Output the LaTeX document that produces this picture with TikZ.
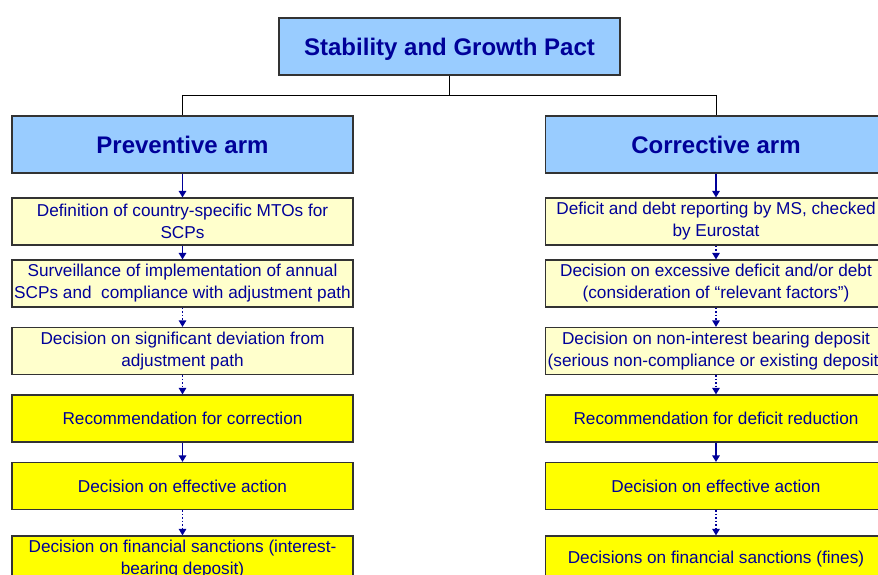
\documentclass[tikz,border=0pt]{standalone}
\usepackage{fontspec}
\setmainfont{Liberation Sans}
\usetikzlibrary{arrows.meta}
\definecolor{hblue}{HTML}{99CCFF}
\definecolor{lyel}{HTML}{FFFFCC}
\definecolor{yel}{HTML}{FFFF00}
\definecolor{navy}{HTML}{000099}
\definecolor{edge}{HTML}{333333}
\tikzset{
  head/.style={draw=edge, line width=1.3pt, fill=hblue, minimum width=341pt, minimum height=57pt,
    inner sep=0pt, text=navy, text height=18pt, text depth=0pt, font=\fontsize{24}{28}\selectfont\bfseries},
  pale/.style={draw=edge, line width=1.2pt, fill=lyel, minimum width=341pt, minimum height=47pt,
    inner sep=0pt, text=navy, align=center, font=\fontsize{17.2}{22}\selectfont},
  bright/.style={pale, fill=yel},
  flow/.style={draw=navy, line width=1.5pt, -{Triangle[length=6.5pt,width=7.5pt]}},
  dflow/.style={flow, dotted, line width=1.2pt},
  tree/.style={draw=black, line width=0.8pt}
}
\begin{document}
\begin{tikzpicture}[x=1pt,y=-1pt]
\useasboundingbox (0,0) rectangle (878,575);
\clip (0,0) rectangle (878,575);
\node[head] (sgp) at (449.5,46.5) {Stability and Growth Pact};
\node[head] (prev) at (182.5,144.5) {Preventive arm};
\node[head] (corr) at (716,144.5) {Corrective arm};
\coordinate (j) at (449.5,95);
\coordinate (jl) at (182.5,95);
\coordinate (jr) at (716,95);
\draw[tree] (sgp.south) -- (j);
\draw[tree] (jl) -- (jr);
\draw[tree] (jl) -- (prev.north);
\draw[tree] (jr) -- (corr.north);

\node[pale] (l1) at (182.5,221.5) {Definition of country-specific MTOs for\\SCPs};
\node[pale] (l2) at (182.5,283.5) {Surveillance of implementation of annual\\SCPs and\ \ compliance with adjustment path};
\node[pale] (l3) at (182.5,351) {Decision on significant deviation from\\adjustment path};
\node[bright] (l4) at (182.5,418.5) {Recommendation for correction};
\node[bright] (l5) at (182.5,486) {Decision on effective action};
\node[bright] (l6) at (182.5,559.5) {Decision on financial sanctions (interest-\\bearing deposit)};

\node[pale] (r1) at (716,221.5) {Deficit and debt reporting by MS, checked\\by Eurostat};
\node[pale] (r2) at (716,283.5) {Decision on excessive deficit and/or debt\\(consideration of “relevant factors”)};
\node[pale] (r3) at (716,351) {Decision on non-interest bearing deposit\\(serious non-compliance or existing deposit)};
\node[bright] (r4) at (716,418.5) {Recommendation for deficit reduction};
\node[bright] (r5) at (716,486) {Decision on effective action};
\node[bright] (r6) at (716,559.5) {Decisions on financial sanctions (fines)};

\draw[flow] (prev) -- (l1);
\draw[flow] (l1) -- (l2);
\draw[dflow] (l2) -- (l3);
\draw[dflow] (l3) -- (l4);
\draw[flow] (l4) -- (l5);
\draw[dflow] (l5) -- (l6);

\draw[flow] (corr) -- (r1);
\draw[dflow] (r1) -- (r2);
\draw[dflow] (r2) -- (r3);
\draw[dflow] (r3) -- (r4);
\draw[flow] (r4) -- (r5);
\draw[dflow] (r5) -- (r6);
\end{tikzpicture}
\end{document}
